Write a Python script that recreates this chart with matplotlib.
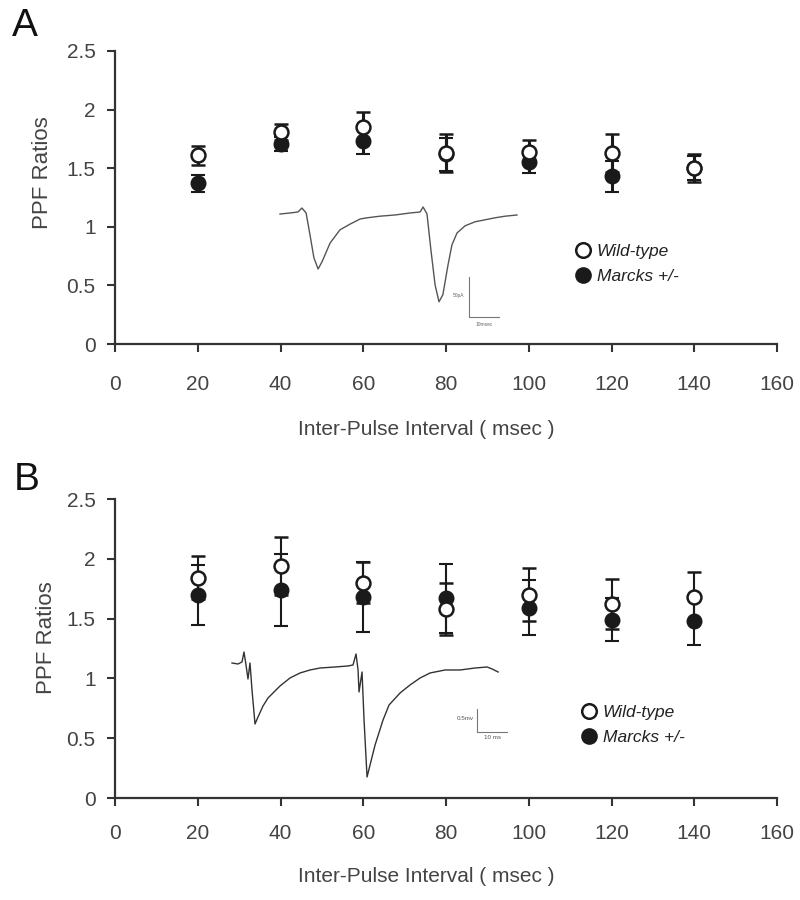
import matplotlib
matplotlib.use('Agg')
import matplotlib.pyplot as plt
from matplotlib.lines import Line2D
from matplotlib.ticker import FixedLocator, FixedFormatter

plt.rcParams['font.family'] = ['Liberation Sans', 'DejaVu Sans']

# ---------------- data ----------------
intervals = [20, 40, 60, 80, 100, 120, 140]
x_ticks = [0, 20, 40, 60, 80, 100, 120, 140, 160]
x_tick_labels = ['0', '20', '40', '60', '80', '100', '120', '140', '160']
y_ticks = [0, 0.5, 1, 1.5, 2, 2.5]
y_tick_labels = ['0', '0.5', '1', '1.5', '2', '2.5']
series_names = ['Wild-type', 'Marcks +/-']

# Panel A
a_wt = [1.61, 1.81, 1.85, 1.63, 1.64, 1.63, 1.50]
a_wt_err = [0.08, 0.07, 0.13, 0.16, 0.10, 0.16, 0.12]
a_mk = [1.37, 1.71, 1.73, 1.62, 1.55, 1.43, 1.50]
a_mk_err = [0.07, 0.06, 0.11, 0.14, 0.09, 0.13, 0.10]

# Panel B
b_wt = [1.84, 1.94, 1.80, 1.58, 1.70, 1.62, 1.68]
b_wt_err = [0.18, 0.24, 0.17, 0.22, 0.22, 0.21, 0.21]
b_mk = [1.70, 1.74, 1.68, 1.67, 1.59, 1.49, 1.48]
b_mk_err = [0.25, 0.30, 0.29, 0.29, 0.23, 0.18, 0.20]

# Inset trace A (time ms, amplitude pA)
trA_t = [0, 3.3, 6, 7.3, 8.7, 10, 11.3, 12.7, 14, 16.7, 20, 23.3, 26.7, 29, 33.3, 38.3,
         43.3, 46.7, 47.7, 49, 50.3, 51.7, 53, 54.3, 56, 57.3, 59, 61.7, 65, 67.7, 71.7, 75, 79]
trA_v = [-1.25, 0, 1.25, 6.25, 0, -27.5, -56, -70, -61, -37.5, -21, -14, -7.5, -6, -4, -2.5,
         0, 1.25, 7.5, -1.25, -46, -90, -111, -102, -65, -40, -25, -16, -11, -9, -6, -4, -2.5]
scaleA_amp, scaleA_time = 50, 10
scaleA_labels = ['50pA', '10msec']

# Inset trace B (time ms, amplitude mV)
trB_t = [0, 2, 3.33, 4, 4.67, 5.33, 6, 6.67, 7.67, 8.67, 10.33, 12, 13.67, 16, 19.33, 22.67,
         26, 29.33, 34.33, 38.67, 40.33, 41.33, 42, 42.33, 43.33, 44, 45, 46, 47.67, 50.33,
         52.33, 56, 59.33, 62.67, 66, 71, 76, 81, 85, 86.67, 88.67]
trB_v = [0, -0.022, 0.022, 0.239, -0.043, -0.348, 0, -0.587, -1.326, -1.174, -0.935, -0.761,
         -0.652, -0.5, -0.326, -0.217, -0.152, -0.109, -0.087, -0.065, -0.043, 0.196, -0.152,
         -0.630, -0.196, -1.239, -2.478, -2.217, -1.783, -1.239, -0.913, -0.652, -0.478,
         -0.326, -0.217, -0.152, -0.152, -0.109, -0.087, -0.130, -0.196]
scaleB_amp, scaleB_time = 0.5, 10
scaleB_labels = ['0.5mv', '10 ms']

# ---------------- layout ----------------
W, H = 800, 900
fig = plt.figure(figsize=(8, 9), dpi=100)


def box(x0, y0, x1, y1):
    return [x0 / W, 1 - y1 / H, (x1 - x0) / W, (y1 - y0) / H]


DARK = '#1a1a1a'
AXC = '#333333'
TXT = '#444444'


def style(ax, xpad, xlab_y, ylab_xy):
    ax.set_xlim(0, 160)
    ax.set_ylim(0, 2.5)
    ax.xaxis.set_major_locator(FixedLocator(x_ticks))
    ax.xaxis.set_major_formatter(FixedFormatter(x_tick_labels))
    ax.yaxis.set_major_locator(FixedLocator(y_ticks))
    ax.yaxis.set_major_formatter(FixedFormatter(y_tick_labels))
    for s in ['top', 'right']:
        ax.spines[s].set_visible(False)
    for s in ['left', 'bottom']:
        ax.spines[s].set_color(AXC)
        ax.spines[s].set_linewidth(1.6)
    ax.tick_params(axis='both', direction='out', length=6, width=1.5, color=AXC,
                   labelsize=15, labelcolor=TXT)
    ax.tick_params(axis='x', pad=xpad)
    ax.tick_params(axis='y', pad=8)
    ax.set_xlabel('Inter-Pulse Interval ( msec )', fontsize=15, color=TXT, va='center')
    ax.xaxis.set_label_coords(0.47, xlab_y)
    ax.set_ylabel('PPF Ratios', fontsize=16, color=TXT, va='center', ha='center')
    ax.yaxis.set_label_coords(*ylab_xy)


def draw_series(ax, wt, wt_err, mk, mk_err, elw, ms):
    ax.errorbar(intervals, mk, yerr=mk_err, fmt='o', mfc=DARK, mec=DARK, ms=ms, mew=1.5,
                ecolor=DARK, elinewidth=elw, capsize=5, capthick=elw, zorder=3, clip_on=False)
    ax.errorbar(intervals, wt, yerr=wt_err, fmt='o', mfc='white', mec=DARK, ms=ms, mew=1.8,
                ecolor=DARK, elinewidth=elw, capsize=5, capthick=elw, zorder=4, clip_on=False)


def legend(ax, x0, y0):
    handles = [Line2D([], [], ls='none', marker='o', ms=10.5, mfc='white', mec=DARK, mew=1.8),
               Line2D([], [], ls='none', marker='o', ms=10.5, mfc=DARK, mec=DARK, mew=1.5)]
    ax.legend(handles, series_names, loc='upper left', bbox_to_anchor=(x0 / W, 1 - y0 / H),
              bbox_transform=fig.transFigure, frameon=False, borderaxespad=0,
              handlelength=1.0, handletextpad=0.3, labelspacing=0.55,
              prop={'size': 12.5, 'style': 'italic'}, labelcolor='#222222')


# Panel A
axA = fig.add_axes(box(115, 51, 777, 344))
style(axA, 16.5, -0.293, (-0.109, 0.584))
draw_series(axA, a_wt, a_wt_err, a_mk, a_mk_err, elw=2.2, ms=10)
legend(axA, 567, 237)
fig.text(25 / W, 1 - 26 / H, 'A', fontsize=28, ha='center', va='center', color='#111111')

# Panel B
axB = fig.add_axes(box(115, 499, 777, 798))
style(axB, 13, -0.264, (-0.103, 0.535))
draw_series(axB, b_wt, b_wt_err, b_mk, b_mk_err, elw=1.5, ms=10)
legend(axB, 573, 698)
fig.text(27 / W, 1 - 480 / H, 'B', fontsize=28, ha='center', va='center', color='#111111')

TRC = '#555555'

# Inset A
insA = fig.add_axes(box(275, 200, 520, 325))
insA.set_xlim(-1.67, 80)
insA.set_ylim(-140, 16.25)
insA.axis('off')
insA.plot(trA_t, trA_v, color=TRC, lw=1.0)
sbx, sby = 63, -130
insA.plot([sbx, sbx, sbx + scaleA_time], [sby + scaleA_amp, sby, sby], color='#777777', lw=0.8)
insA.text(sbx - 1.5, sby + scaleA_amp * 0.55, scaleA_labels[0], fontsize=3.5, ha='right',
          va='center', color='#666666')
insA.text(sbx + scaleA_time / 2, sby - 6, scaleA_labels[1], fontsize=3.5, ha='center',
          va='top', color='#666666')

# Inset B
insB = fig.add_axes(box(228, 645, 512, 785))
insB.set_xlim(-1.33, 93.3)
insB.set_ylim(-2.652, 0.391)
insB.axis('off')
insB.plot(trB_t, trB_v, color='#333333', lw=1.0)
sbx, sby = 81.67, -1.5
insB.plot([sbx, sbx, sbx + scaleB_time], [sby + scaleB_amp, sby, sby], color='#777777', lw=0.8)
insB.text(sbx - 1.0, sby + scaleB_amp * 0.6, scaleB_labels[0], fontsize=4.5, ha='right',
          va='center', color='#555555')
insB.text(sbx + scaleB_time / 2, sby - 0.07, scaleB_labels[1], fontsize=4.5, ha='center',
          va='top', color='#555555')

fig.savefig('out.png', dpi=100)
